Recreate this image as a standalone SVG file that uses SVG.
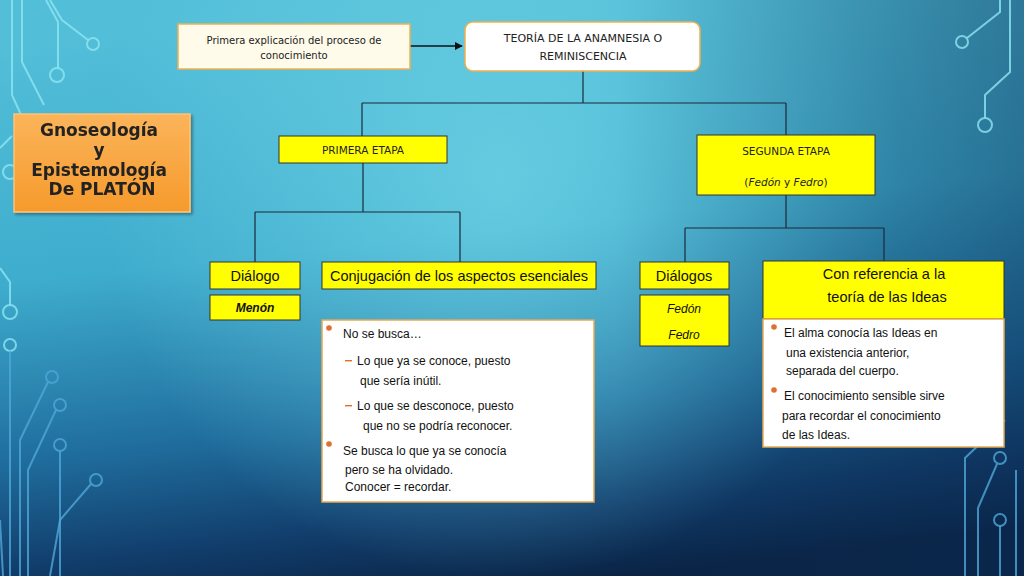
<svg xmlns="http://www.w3.org/2000/svg" width="1024" height="576" viewBox="0 0 1024 576">
<defs>
<linearGradient id="bg" x1="0.4" y1="0" x2="0.6" y2="1">
<stop offset="0" stop-color="#52bed8"/>
<stop offset="0.4" stop-color="#3eaccd"/>
<stop offset="0.7" stop-color="#1f6c9c"/>
<stop offset="0.88" stop-color="#113c6a"/>
<stop offset="1" stop-color="#0a2446"/>
</linearGradient>
<radialGradient id="glow" cx="500" cy="180" r="400" gradientUnits="userSpaceOnUse">
<stop offset="0" stop-color="#70d4e6" stop-opacity="0.75"/>
<stop offset="1" stop-color="#70d4e6" stop-opacity="0"/>
</radialGradient>
<linearGradient id="rdark" x1="0" y1="0" x2="1" y2="0">
<stop offset="0.6" stop-color="#0a2a50" stop-opacity="0"/>
<stop offset="1" stop-color="#0a2a50" stop-opacity="0.45"/>
</linearGradient>
<linearGradient id="org" x1="0" y1="0" x2="0" y2="1">
<stop offset="0" stop-color="#fbb45a"/>
<stop offset="1" stop-color="#f69a2c"/>
</linearGradient>
<marker id="arr" viewBox="0 0 10 10" refX="9" refY="5" markerWidth="8" markerHeight="8" orient="auto" markerUnits="userSpaceOnUse">
<path d="M0,0 L10,5 L0,10 z" fill="#111"/>
</marker>
<filter id="sh" x="-10%" y="-10%" width="130%" height="130%">
<feDropShadow dx="2" dy="2" stdDeviation="1.5" flood-color="#000" flood-opacity="0.35"/>
</filter>
</defs>
<style>
.circ{fill:none;stroke:#8fe6f2;stroke-width:2;opacity:0.8}
.circd{fill:none;stroke:#4fa8d8;stroke-width:2;opacity:0.8}
.cn{fill:none;stroke:#1a2a3a;stroke-width:1.2}
.yb{fill:#ffff00;stroke:#333;stroke-width:1}
.wb{fill:#fff;stroke:#e8a850;stroke-width:1.5}
.cg{font-family:"DejaVu Sans",sans-serif;fill:#222}
.ar{font-family:"Liberation Sans",Arial,sans-serif;fill:#111}
.dot{fill:#e07030}
.dash{fill:#e07030}
</style>
<rect width="1024" height="576" fill="url(#bg)"/>
<rect width="1024" height="576" fill="url(#glow)"/>
<rect width="1024" height="576" fill="url(#rdark)"/>

<g id="circuits">
<path class="circ" d="M50 0 L62 20 L88 40"/>
<circle class="circ" cx="93" cy="44" r="6"/>
<path class="circ" d="M46 0 L58 22 L58 68"/>
<circle class="circ" cx="57" cy="75" r="7"/>
<path class="circ" d="M22 0 L22 62 L44 105"/>
<path class="circ" d="M12 0 L12 95 L28 130"/>
<path class="circ" d="M0 148 L12 136"/>
<circle class="circ" cx="10" cy="172" r="7"/>
<path class="circ" d="M0 268 L10 282 L10 305"/>
<circle class="circ" cx="10" cy="312" r="7"/>
<circle class="circ" cx="10" cy="345" r="6"/>
<path class="circd" d="M10 351 L10 576"/>
<circle class="circd" cx="52" cy="377" r="6"/>
<path class="circd" d="M48 382 L20 440 L20 576"/>
<circle class="circd" cx="60" cy="405" r="6"/>
<path class="circd" d="M56 410 L28 470 L28 576"/>
<circle class="circd" cx="60" cy="445" r="6"/>
<path class="circd" d="M60 451 L60 576"/>
<circle class="circd" cx="96" cy="480" r="6"/>
<path class="circd" d="M91 484 L60 520 L50 576"/>
<path class="circd" d="M0 520 L3 576"/>
<path class="circ" d="M967 38 L1000 12 L1000 0"/>
<circle class="circ" cx="962" cy="42" r="6"/>
<path class="circ" d="M985 118 L985 95 L1010 72 L1010 0"/>
<circle class="circ" cx="985" cy="125" r="7"/>
<path class="circd" d="M1005 420 L965 458 L965 576"/>
<circle class="circd" cx="1000" cy="458" r="6"/>
<path class="circd" d="M997 464 L978 508 L978 576"/>
<circle class="circd" cx="1000" cy="520" r="6"/>
<path class="circd" d="M1000 526 L1000 576"/>
<path class="circd" d="M1016 470 L1016 576"/>
</g>

<g id="connectors">
<line x1="410" y1="46" x2="462" y2="46" stroke="#111" stroke-width="1.5" marker-end="url(#arr)"/>
<path class="cn" d="M583 71 L583 103 M362 103 L786 103 M362 103 L362 136 M786 103 L786 135"/>
<path class="cn" d="M363 163 L363 212 M255 212 L460 212 M255 212 L255 262 M460 212 L460 262"/>
<path class="cn" d="M786 195 L786 228 M685 228 L884 228 M685 228 L685 262 M884 228 L884 261"/>
</g>

<g id="title" filter="url(#sh)">
<rect x="14" y="114" width="176" height="98" fill="url(#org)" stroke="#fcc47a" stroke-width="1.5"/>
<text class="cg" font-weight="bold" font-size="17" text-anchor="middle" fill="#1a1a1a">
<tspan x="102" y="136">Gnoseología</tspan>
<tspan x="102" y="156">y</tspan>
<tspan x="102" y="176">Epistemología</tspan>
<tspan x="102" y="195">De PLATÓN</tspan>
</text>
</g>

<g id="primera-explicacion">
<rect x="178" y="24" width="232" height="45" fill="#fffbea" stroke="#f0b050" stroke-width="1.5"/>
<text class="cg" font-size="10" text-anchor="middle"><tspan x="294" y="44">Primera explicación del proceso de</tspan><tspan x="294" y="59">conocimiento</tspan></text>
</g>

<g id="teoria">
<rect x="465" y="22" width="235" height="49" rx="8" fill="#fff" stroke="#f0b050" stroke-width="1.5"/>
<text class="cg" font-size="11" text-anchor="middle"><tspan x="583" y="42">TEORÍA DE LA ANAMNESIA O</tspan><tspan x="583" y="60">REMINISCENCIA</tspan></text>
</g>

<g id="primera-etapa">
<rect class="yb" x="279" y="136" width="168" height="27"/>
<text class="cg" font-size="10.5" text-anchor="middle" x="363" y="154">PRIMERA ETAPA</text>
</g>

<g id="segunda-etapa">
<rect class="yb" x="697" y="135" width="178" height="60"/>
<text class="cg" font-size="10.5" text-anchor="middle" x="786" y="155">SEGUNDA ETAPA</text>
<text class="cg" font-size="10.5" text-anchor="middle" x="786" y="186">(<tspan font-style="italic">Fedón</tspan> y <tspan font-style="italic">Fedro</tspan>)</text>
</g>

<g id="dialogo">
<rect class="yb" x="210" y="262" width="90" height="27"/>
<text class="ar" font-size="14.5" text-anchor="middle" x="255" y="281">Diálogo</text>
</g>

<g id="menon">
<rect class="yb" x="210" y="295" width="90" height="25"/>
<text class="ar" font-size="12" font-style="italic" font-weight="bold" text-anchor="middle" x="255" y="312">Menón</text>
</g>

<g id="conjugacion">
<rect class="yb" x="322" y="262" width="274" height="27"/>
<text class="ar" font-size="14.5" text-anchor="middle" x="459" y="281">Conjugación de los aspectos esenciales</text>
</g>

<g id="conjugacion-detalle">
<rect class="wb" x="322" y="320" width="272" height="182"/>
<circle class="dot" cx="329" cy="328" r="2.8"/>
<text class="ar" font-size="12" x="343" y="338">No se busca…</text>
<rect class="dash" x="345" y="360" width="7" height="1.4"/>
<text class="ar" font-size="12" x="357" y="365">Lo que ya se conoce, puesto</text>
<text class="ar" font-size="12" x="360" y="385">que sería inútil.</text>
<rect class="dash" x="345" y="405" width="7" height="1.4"/>
<text class="ar" font-size="12" x="357" y="410">Lo que se desconoce, puesto</text>
<text class="ar" font-size="12" x="363" y="430">que no se podría reconocer.</text>
<circle class="dot" cx="329" cy="444" r="2.8"/>
<text class="ar" font-size="12" x="343" y="455">Se busca lo que ya se conocía</text>
<text class="ar" font-size="12" x="345" y="474">pero se ha olvidado.</text>
<text class="ar" font-size="12" x="345" y="491">Conocer = recordar.</text>
</g>

<g id="dialogos">
<rect class="yb" x="640" y="262" width="89" height="27"/>
<text class="ar" font-size="14.5" text-anchor="middle" x="684" y="281">Diálogos</text>
</g>

<g id="fedon-fedro">
<rect class="yb" x="640" y="295" width="89" height="51"/>
<text class="ar" font-size="12" font-style="italic" text-anchor="middle" x="684" y="313">Fedón</text>
<text class="ar" font-size="12" font-style="italic" text-anchor="middle" x="684" y="339">Fedro</text>
</g>

<g id="referencia">
<rect class="yb" x="763" y="261" width="241" height="58"/>
<text class="ar" font-size="14.5" text-anchor="middle" x="884" y="279">Con referencia a la</text>
<text class="ar" font-size="14.5" text-anchor="middle" x="887" y="302">teoría de las Ideas</text>
</g>

<g id="referencia-detalle">
<rect class="wb" x="763" y="319" width="241" height="128"/>
<circle class="dot" cx="774" cy="327" r="2.8"/>
<text class="ar" font-size="12" x="784" y="337">El alma conocía las Ideas en</text>
<text class="ar" font-size="12" x="786" y="357">una existencia anterior,</text>
<text class="ar" font-size="12" x="786" y="375">separada del cuerpo.</text>
<circle class="dot" cx="774" cy="390" r="2.8"/>
<text class="ar" font-size="12" x="784" y="400">El conocimiento sensible sirve</text>
<text class="ar" font-size="12" x="782" y="420">para recordar el conocimiento</text>
<text class="ar" font-size="12" x="782" y="439">de las Ideas.</text>
</g>
</svg>
